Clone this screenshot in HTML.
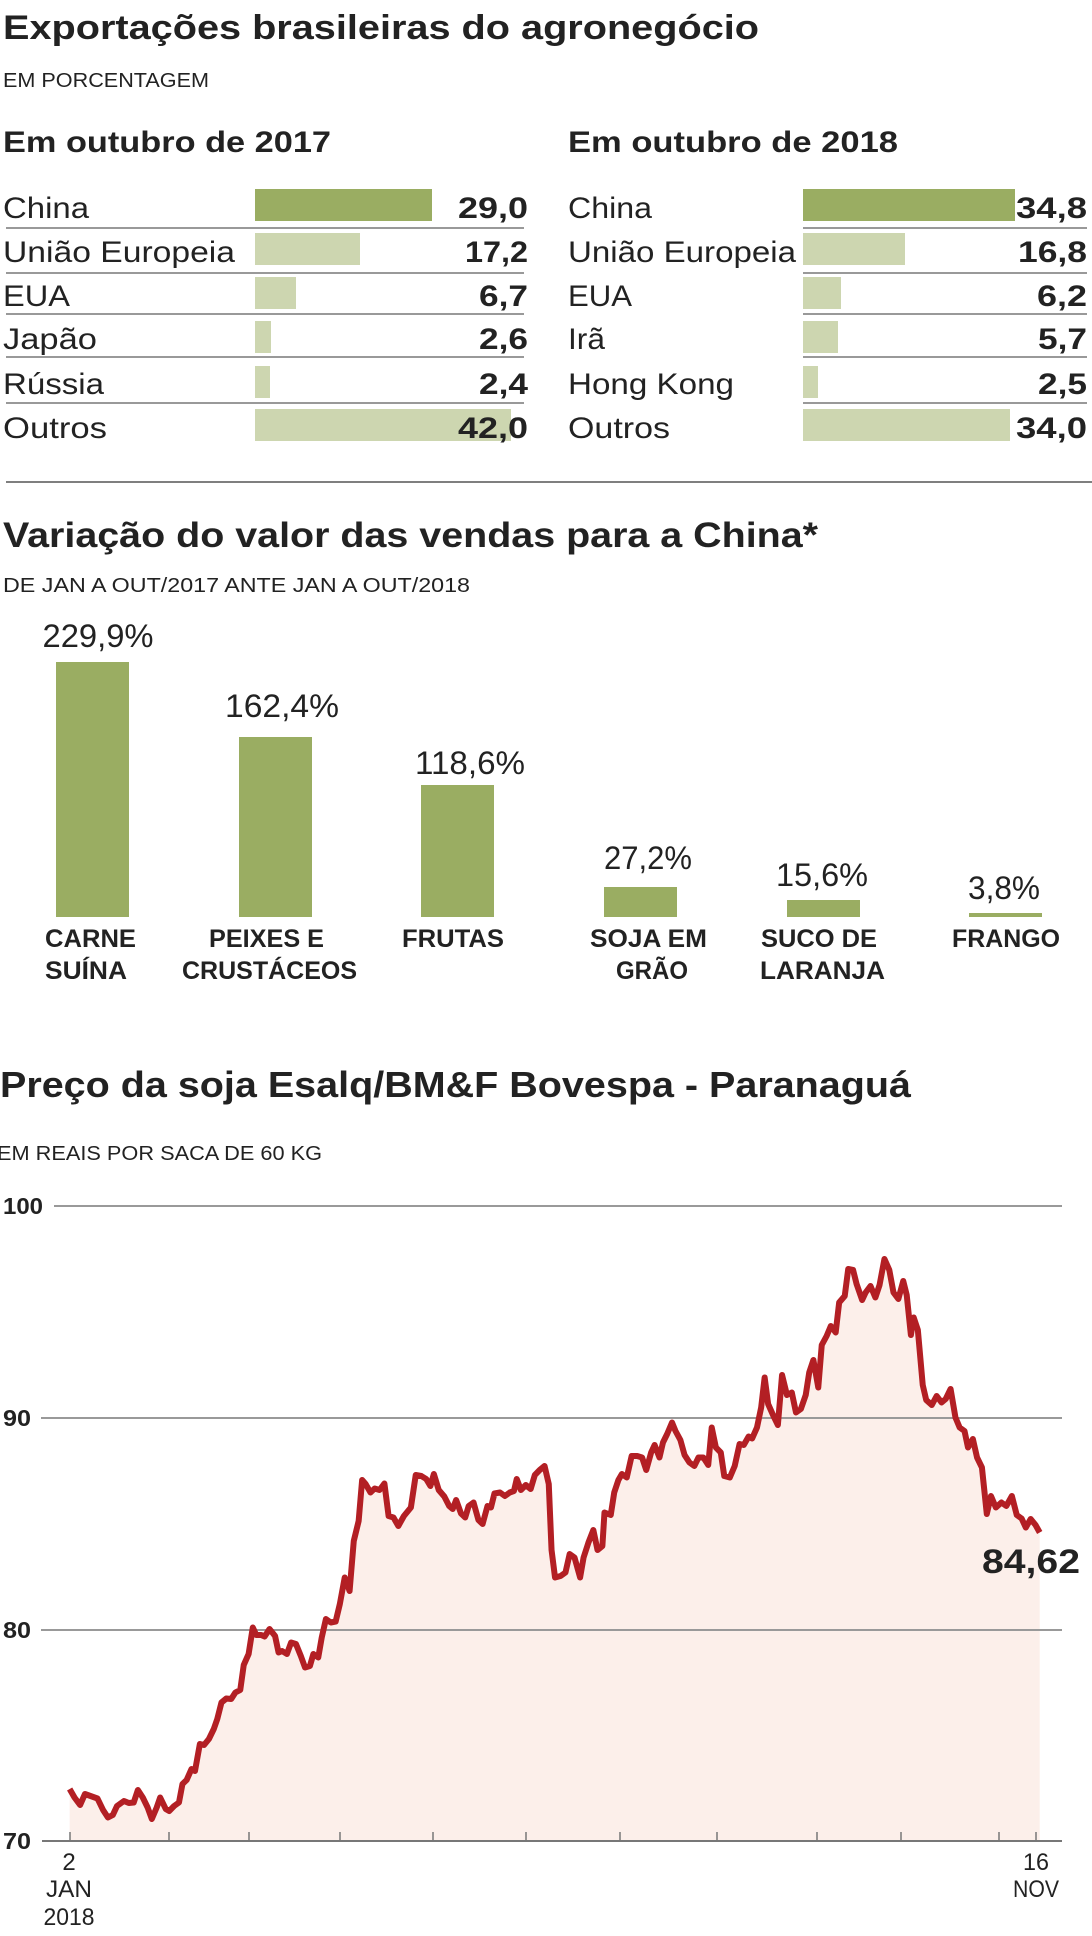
<!DOCTYPE html>
<html><head><meta charset="utf-8"><style>
html,body{margin:0;padding:0;background:#fff}
svg{display:block}
text{font-family:"Liberation Sans",sans-serif;fill:#222}
.b{font-weight:bold}
</style></head><body>
<svg width="1092" height="1936" viewBox="0 0 1092 1936" xmlns="http://www.w3.org/2000/svg">
<text x="3" y="39" class="b" font-size="34" textLength="756" lengthAdjust="spacingAndGlyphs">Exportações brasileiras do agronegócio</text>
<text x="3" y="87" font-size="20" textLength="206" lengthAdjust="spacingAndGlyphs">EM PORCENTAGEM</text>
<text x="3" y="152" class="b" font-size="30" textLength="328" lengthAdjust="spacingAndGlyphs">Em outubro de 2017</text>
<text x="568" y="152" class="b" font-size="30" textLength="330" lengthAdjust="spacingAndGlyphs">Em outubro de 2018</text>
<g stroke="#999" stroke-width="2">
<line x1="6" y1="228" x2="524" y2="228"/><line x1="6" y1="273" x2="524" y2="273"/><line x1="6" y1="314" x2="524" y2="314"/><line x1="6" y1="357" x2="524" y2="357"/><line x1="6" y1="403" x2="524" y2="403"/>
<line x1="803" y1="228" x2="1087" y2="228"/><line x1="803" y1="273" x2="1087" y2="273"/><line x1="803" y1="314" x2="1087" y2="314"/><line x1="803" y1="357" x2="1087" y2="357"/><line x1="803" y1="403" x2="1087" y2="403"/>
</g>
<rect x="255" y="189" width="177" height="32" fill="#9aad62"/>
<rect x="255" y="233" width="105" height="32" fill="#cdd6b0"/>
<rect x="255" y="277" width="41" height="32" fill="#cdd6b0"/>
<rect x="255" y="321" width="16" height="32" fill="#cdd6b0"/>
<rect x="255" y="366" width="15" height="32" fill="#cdd6b0"/>
<rect x="255" y="409" width="256" height="32" fill="#cdd6b0"/>
<rect x="803" y="189" width="212" height="32" fill="#9aad62"/>
<rect x="803" y="233" width="102" height="32" fill="#cdd6b0"/>
<rect x="803" y="277" width="38" height="32" fill="#cdd6b0"/>
<rect x="803" y="321" width="35" height="32" fill="#cdd6b0"/>
<rect x="803" y="366" width="15" height="32" fill="#cdd6b0"/>
<rect x="803" y="409" width="207" height="32" fill="#cdd6b0"/>
<g font-size="30">
<text x="3" y="218" textLength="86" lengthAdjust="spacingAndGlyphs">China</text>
<text x="3" y="262" textLength="232" lengthAdjust="spacingAndGlyphs">União Europeia</text>
<text x="3" y="306" textLength="67" lengthAdjust="spacingAndGlyphs">EUA</text>
<text x="3" y="349" textLength="94" lengthAdjust="spacingAndGlyphs">Japão</text>
<text x="3" y="394" textLength="101" lengthAdjust="spacingAndGlyphs">Rússia</text>
<text x="3" y="438" textLength="104" lengthAdjust="spacingAndGlyphs">Outros</text>
<text x="568" y="218" textLength="84" lengthAdjust="spacingAndGlyphs">China</text>
<text x="568" y="262" textLength="228" lengthAdjust="spacingAndGlyphs">União Europeia</text>
<text x="568" y="306" textLength="64" lengthAdjust="spacingAndGlyphs">EUA</text>
<text x="568" y="349" textLength="37" lengthAdjust="spacingAndGlyphs">Irã</text>
<text x="568" y="394" textLength="166" lengthAdjust="spacingAndGlyphs">Hong Kong</text>
<text x="568" y="438" textLength="102" lengthAdjust="spacingAndGlyphs">Outros</text>
</g>
<g font-size="30" class="b" text-anchor="end" font-weight="bold">
<text x="528" y="218" textLength="70" lengthAdjust="spacingAndGlyphs">29,0</text>
<text x="528" y="262" textLength="63" lengthAdjust="spacingAndGlyphs">17,2</text>
<text x="528" y="306" textLength="49" lengthAdjust="spacingAndGlyphs">6,7</text>
<text x="528" y="349" textLength="49" lengthAdjust="spacingAndGlyphs">2,6</text>
<text x="528" y="394" textLength="49" lengthAdjust="spacingAndGlyphs">2,4</text>
<text x="528" y="438" textLength="70" lengthAdjust="spacingAndGlyphs">42,0</text>
<text x="1087" y="218" textLength="71" lengthAdjust="spacingAndGlyphs">34,8</text>
<text x="1087" y="262" textLength="69" lengthAdjust="spacingAndGlyphs">16,8</text>
<text x="1087" y="306" textLength="50" lengthAdjust="spacingAndGlyphs">6,2</text>
<text x="1087" y="349" textLength="49" lengthAdjust="spacingAndGlyphs">5,7</text>
<text x="1087" y="394" textLength="49" lengthAdjust="spacingAndGlyphs">2,5</text>
<text x="1087" y="438" textLength="71" lengthAdjust="spacingAndGlyphs">34,0</text>
</g>
<line x1="6" y1="482" x2="1092" y2="482" stroke="#555" stroke-width="1.5"/>

<text x="3" y="547" class="b" font-size="35" textLength="815" lengthAdjust="spacingAndGlyphs">Variação do valor das vendas para a China*</text>
<text x="3" y="592" font-size="20" textLength="467" lengthAdjust="spacingAndGlyphs">DE JAN A OUT/2017 ANTE JAN A OUT/2018</text>
<g fill="#9aad62">
<rect x="56" y="662" width="73" height="255"/>
<rect x="239" y="737" width="73" height="180"/>
<rect x="421" y="785" width="73" height="132"/>
<rect x="604" y="887" width="73" height="30"/>
<rect x="787" y="900" width="73" height="17"/>
<rect x="969" y="913" width="73" height="4"/>
</g>
<g font-size="32" text-anchor="middle">
<text x="98" y="647" textLength="111" lengthAdjust="spacingAndGlyphs">229,9%</text>
<text x="282" y="717" textLength="114" lengthAdjust="spacingAndGlyphs">162,4%</text>
<text x="470" y="774" textLength="110" lengthAdjust="spacingAndGlyphs">118,6%</text>
<text x="648" y="869" textLength="88" lengthAdjust="spacingAndGlyphs">27,2%</text>
<text x="822" y="886" textLength="92" lengthAdjust="spacingAndGlyphs">15,6%</text>
<text x="1004" y="899" textLength="72" lengthAdjust="spacingAndGlyphs">3,8%</text>
</g>
<g font-size="25" font-weight="bold">
<text x="45" y="947" textLength="91" lengthAdjust="spacingAndGlyphs">CARNE</text>
<text x="45" y="979" textLength="82" lengthAdjust="spacingAndGlyphs">SUÍNA</text>
<text x="209" y="947" textLength="115" lengthAdjust="spacingAndGlyphs">PEIXES E</text>
<text x="182" y="979" textLength="175" lengthAdjust="spacingAndGlyphs">CRUSTÁCEOS</text>
<text x="402" y="947" textLength="102" lengthAdjust="spacingAndGlyphs">FRUTAS</text>
<text x="590" y="947" textLength="117" lengthAdjust="spacingAndGlyphs">SOJA EM</text>
<text x="616" y="979" textLength="72" lengthAdjust="spacingAndGlyphs">GRÃO</text>
<text x="761" y="947" textLength="116" lengthAdjust="spacingAndGlyphs">SUCO DE</text>
<text x="760" y="979" textLength="125" lengthAdjust="spacingAndGlyphs">LARANJA</text>
<text x="952" y="947" textLength="108" lengthAdjust="spacingAndGlyphs">FRANGO</text>
</g>

<text x="0" y="1097" class="b" font-size="36" textLength="911" lengthAdjust="spacingAndGlyphs">Preço da soja Esalq/BM&amp;F Bovespa - Paranaguá</text>
<text x="-3" y="1160" font-size="20" textLength="325" lengthAdjust="spacingAndGlyphs">EM REAIS POR SACA DE 60 KG</text>

<g transform="translate(0,1150) scale(0.6964,0.5)">
<polygon fill="#fcefea" points="100,1278 107,1295 115,1310 122,1288 130,1292 140,1297 148,1320 155,1335 162,1330 168,1312 178,1302 185,1306 192,1305 198,1280 205,1295 212,1315 218,1338 225,1315 230,1295 238,1318 243,1322 250,1312 257,1305 262,1268 268,1260 275,1238 280,1242 287,1188 293,1190 300,1178 307,1158 312,1138 318,1105 325,1097 332,1098 338,1085 345,1080 350,1030 357,1008 363,955 368,970 375,970 380,973 387,958 395,972 400,1005 405,1002 412,1008 418,985 425,988 432,1012 438,1035 445,1032 450,1008 457,1015 462,975 468,938 475,945 482,943 488,908 495,855 502,882 508,782 515,742 520,660 525,668 532,685 538,677 545,680 552,667 558,732 565,735 572,752 580,732 590,715 597,650 605,652 612,658 618,672 623,648 630,680 638,693 645,712 650,718 655,700 662,727 668,735 673,712 680,705 687,740 693,748 700,712 705,715 710,687 718,685 725,692 732,685 738,682 742,658 748,680 755,670 762,678 768,650 775,640 782,632 788,668 792,800 797,855 805,852 812,845 818,808 825,815 833,855 838,815 845,785 852,760 858,800 865,792 868,725 877,730 882,685 888,660 893,648 900,655 907,612 915,612 922,615 928,640 935,605 940,590 947,615 952,585 958,568 965,545 970,562 977,580 983,610 990,625 997,632 1003,615 1010,615 1017,630 1022,555 1028,595 1035,605 1040,652 1048,655 1055,632 1062,588 1068,590 1075,573 1080,577 1087,555 1093,515 1098,455 1103,508 1110,530 1117,550 1123,450 1130,490 1137,485 1143,525 1150,518 1157,490 1162,445 1168,420 1175,475 1180,390 1187,372 1193,352 1200,365 1205,305 1213,292 1218,238 1225,240 1230,268 1238,300 1243,285 1250,272 1257,295 1263,270 1270,218 1277,240 1283,285 1290,298 1297,262 1302,290 1308,370 1312,335 1318,360 1325,470 1330,500 1338,510 1345,492 1352,505 1358,498 1365,478 1372,535 1378,555 1385,562 1390,595 1397,578 1403,615 1410,635 1417,728 1423,692 1430,715 1438,705 1445,712 1453,692 1460,730 1467,737 1473,755 1480,738 1487,750 1493,765 1493,1382 100,1382"/>
</g>
<g stroke="#999" stroke-width="2">
<line x1="54" y1="1206" x2="1062" y2="1206"/>
<line x1="41" y1="1418" x2="1062" y2="1418"/>
<line x1="41" y1="1630" x2="1062" y2="1630"/>
</g>
<line x1="42" y1="1841" x2="1062" y2="1841" stroke="#777" stroke-width="2"/>
<g stroke="#777" stroke-width="1.5">
<line x1="70" y1="1832" x2="70" y2="1841"/><line x1="169" y1="1832" x2="169" y2="1841"/><line x1="249" y1="1832" x2="249" y2="1841"/><line x1="340" y1="1832" x2="340" y2="1841"/><line x1="433" y1="1832" x2="433" y2="1841"/><line x1="526" y1="1832" x2="526" y2="1841"/><line x1="620" y1="1832" x2="620" y2="1841"/><line x1="717" y1="1832" x2="717" y2="1841"/><line x1="817" y1="1832" x2="817" y2="1841"/><line x1="901" y1="1832" x2="901" y2="1841"/><line x1="999" y1="1832" x2="999" y2="1841"/><line x1="1036" y1="1832" x2="1036" y2="1841"/>
</g>
<g transform="translate(0,1150) scale(0.6964,0.5)">
<polyline fill="none" stroke="#b31f24" stroke-width="6" stroke-linejoin="round" vector-effect="non-scaling-stroke" points="100,1278 107,1295 115,1310 122,1288 130,1292 140,1297 148,1320 155,1335 162,1330 168,1312 178,1302 185,1306 192,1305 198,1280 205,1295 212,1315 218,1338 225,1315 230,1295 238,1318 243,1322 250,1312 257,1305 262,1268 268,1260 275,1238 280,1242 287,1188 293,1190 300,1178 307,1158 312,1138 318,1105 325,1097 332,1098 338,1085 345,1080 350,1030 357,1008 363,955 368,970 375,970 380,973 387,958 395,972 400,1005 405,1002 412,1008 418,985 425,988 432,1012 438,1035 445,1032 450,1008 457,1015 462,975 468,938 475,945 482,943 488,908 495,855 502,882 508,782 515,742 520,660 525,668 532,685 538,677 545,680 552,667 558,732 565,735 572,752 580,732 590,715 597,650 605,652 612,658 618,672 623,648 630,680 638,693 645,712 650,718 655,700 662,727 668,735 673,712 680,705 687,740 693,748 700,712 705,715 710,687 718,685 725,692 732,685 738,682 742,658 748,680 755,670 762,678 768,650 775,640 782,632 788,668 792,800 797,855 805,852 812,845 818,808 825,815 833,855 838,815 845,785 852,760 858,800 865,792 868,725 877,730 882,685 888,660 893,648 900,655 907,612 915,612 922,615 928,640 935,605 940,590 947,615 952,585 958,568 965,545 970,562 977,580 983,610 990,625 997,632 1003,615 1010,615 1017,630 1022,555 1028,595 1035,605 1040,652 1048,655 1055,632 1062,588 1068,590 1075,573 1080,577 1087,555 1093,515 1098,455 1103,508 1110,530 1117,550 1123,450 1130,490 1137,485 1143,525 1150,518 1157,490 1162,445 1168,420 1175,475 1180,390 1187,372 1193,352 1200,365 1205,305 1213,292 1218,238 1225,240 1230,268 1238,300 1243,285 1250,272 1257,295 1263,270 1270,218 1277,240 1283,285 1290,298 1297,262 1302,290 1308,370 1312,335 1318,360 1325,470 1330,500 1338,510 1345,492 1352,505 1358,498 1365,478 1372,535 1378,555 1385,562 1390,595 1397,578 1403,615 1410,635 1417,728 1423,692 1430,715 1438,705 1445,712 1453,692 1460,730 1467,737 1473,755 1480,738 1487,750 1493,765"/>
</g>
<g font-size="23" font-weight="bold">
<text x="3" y="1214" textLength="40" lengthAdjust="spacingAndGlyphs">100</text>
<text x="3" y="1426" textLength="28" lengthAdjust="spacingAndGlyphs">90</text>
<text x="3" y="1638" textLength="28" lengthAdjust="spacingAndGlyphs">80</text>
<text x="3" y="1849" textLength="28" lengthAdjust="spacingAndGlyphs">70</text>
</g>
<g font-size="24" text-anchor="middle">
<text x="69" y="1870">2</text>
<text x="69" y="1897" textLength="46" lengthAdjust="spacingAndGlyphs">JAN</text>
<text x="69" y="1925" textLength="51" lengthAdjust="spacingAndGlyphs">2018</text>
<text x="1036" y="1870" textLength="26" lengthAdjust="spacingAndGlyphs">16</text>
<text x="1036" y="1897" textLength="46" lengthAdjust="spacingAndGlyphs">NOV</text>
</g>
<text x="982" y="1573" font-size="34" font-weight="bold" textLength="98" lengthAdjust="spacingAndGlyphs">84,62</text>
</svg>
</body></html>
